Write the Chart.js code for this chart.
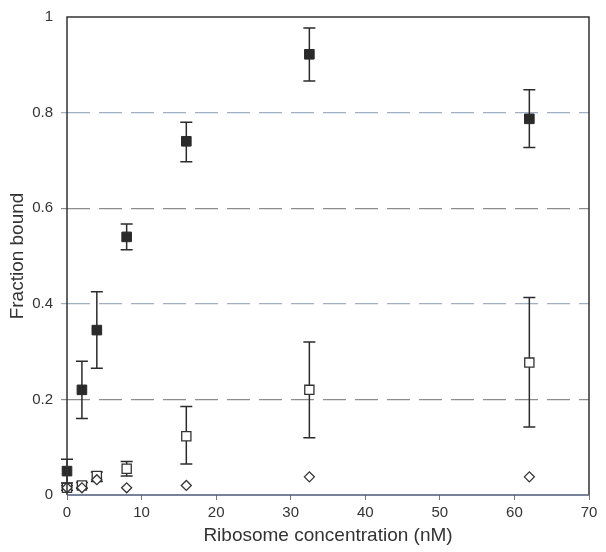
<!DOCTYPE html>
<html>
<head>
<meta charset="utf-8">
<script src="https://cdn.jsdelivr.net/npm/chart.js@4/dist/chart.umd.min.js"></script>
<style>
  html, body { margin: 0; padding: 0; background: #fff; }
  #wrap { width: 606px; height: 552px; }
</style>
</head>
<body>
<div id="wrap"><canvas id="myChart" width="606" height="552"></canvas></div>
<script>
// ribosome concentration (nM)
var conc = [0, 2, 4, 8, 16, 32.5, 62];

// filled squares
var filled = [0.05, 0.22, 0.345, 0.54, 0.74, 0.922, 0.787];
var filledHi = [0.075, 0.28, 0.425, 0.567, 0.78, 0.977, 0.848];
var filledLo = [0.025, 0.16, 0.265, 0.513, 0.697, 0.866, 0.727];

// open squares
var open = [0.015, 0.02, 0.04, 0.055, 0.123, 0.22, 0.277];
var openHi = [0.02, 0.026, 0.048, 0.07, 0.185, 0.32, 0.413];
var openLo = [0.01, 0.014, 0.028, 0.04, 0.065, 0.12, 0.142];

// diamonds
var diamond = [0.015, 0.015, 0.032, 0.015, 0.02, 0.038, 0.038];

var xTicks = [0, 10, 20, 30, 40, 50, 60, 70];
var yTicks = [0, 0.2, 0.4, 0.6, 0.8, 1];

function pts(ys) {
  return conc.map(function(x, i) { return { x: x, y: ys[i] }; });
}

var errorBars = {
  id: 'errorBars',
  beforeDatasetsDraw: function(chart) {
    var ctx = chart.ctx;
    var xs = chart.scales.x, ys = chart.scales.y;
    var sets = [[filledHi, filledLo], [openHi, openLo]];
    ctx.save();
    ctx.strokeStyle = '#2b2b2b';
    ctx.lineWidth = 1.5;
    sets.forEach(function(s) {
      conc.forEach(function(c, i) {
        var px = xs.getPixelForValue(c);
        var top = ys.getPixelForValue(s[0][i]);
        var bot = ys.getPixelForValue(s[1][i]);
        ctx.beginPath();
        ctx.moveTo(px, top); ctx.lineTo(px, bot);
        ctx.moveTo(px - 6, top); ctx.lineTo(px + 6, top);
        ctx.moveTo(px - 6, bot); ctx.lineTo(px + 6, bot);
        ctx.stroke();
      });
    });
    ctx.restore();
  },
  afterDraw: function(chart) {
    var ctx = chart.ctx, a = chart.chartArea;
    ctx.save();
    ctx.lineWidth = 1.5;
    ctx.strokeStyle = '#333';
    ctx.beginPath();
    ctx.moveTo(a.left, a.bottom);
    ctx.lineTo(a.left, a.top);
    ctx.lineTo(a.right, a.top);
    ctx.lineTo(a.right, a.bottom);
    ctx.stroke();
    ctx.strokeStyle = '#4a5a78';
    ctx.beginPath();
    ctx.moveTo(a.left, a.bottom);
    ctx.lineTo(a.right, a.bottom);
    ctx.stroke();
    ctx.restore();
  }
};

var myChart = new Chart(document.getElementById('myChart').getContext('2d'), {
  type: 'scatter',
  data: {
    datasets: [{
      label: 'filled',
      data: pts(filled),
      pointStyle: 'rect',
      pointRadius: 6.8,
      backgroundColor: '#2a2a2a',
      borderColor: '#2a2a2a',
      borderWidth: 1,
      clip: false,
      order: 1
    }, {
      label: 'open',
      data: pts(open),
      pointStyle: 'rect',
      pointRadius: 6.5,
      backgroundColor: '#fff',
      borderColor: '#333',
      borderWidth: 1.3,
      clip: false,
      order: 2
    }, {
      label: 'diamond',
      data: pts(diamond),
      pointStyle: 'rectRot',
      pointRadius: 5,
      backgroundColor: '#fff',
      borderColor: '#333',
      borderWidth: 1.3,
      clip: false,
      order: 0
    }]
  },
  options: {
    responsive: false,
    animation: false,
    events: [],
    layout: { padding: { top: 16, right: 17, left: 0, bottom: 0 } },
    plugins: { legend: { display: false }, tooltip: { enabled: false } },
    scales: {
      x: {
        type: 'linear',
        min: 0, max: 70,
        afterBuildTicks: function(s) { s.ticks = xTicks.map(function(v) { return { value: v }; }); },
        afterFit: function(s) { s.height = 57; },
        grid: { display: true, drawOnChartArea: false, drawTicks: true, tickLength: 5, color: '#777' },
        border: { display: false },
        ticks: { color: '#333', font: { family: 'Liberation Sans', size: 15 }, padding: 4 },
        title: { display: true, text: 'Ribosome concentration (nM)', color: '#333', font: { family: 'Liberation Sans', size: 19 }, padding: { top: 0, bottom: 5 } }
      },
      y: {
        min: 0, max: 1,
        afterBuildTicks: function(s) { s.ticks = yTicks.map(function(v) { return { value: v }; }); },
        afterFit: function(s) { s.width = 67; },
        grid: {
          tickLength: 6,
          lineWidth: 1.2,
          color: function(c) {
            var v = c.tick ? c.tick.value : 0;
            if (v === 0 || v === 1) return 'rgba(0,0,0,0)';
            return (Math.round(v * 10) % 4 === 0) ? '#9fb0c4' : '#8c8c8c';
          }
        },
        border: { display: false, dash: [23, 9] },
        ticks: {
          color: '#333',
          font: { family: 'Liberation Sans', size: 15 },
          padding: 8,
          callback: function(v) { return String(v); }
        },
        title: { display: true, text: 'Fraction bound', color: '#333', font: { family: 'Liberation Sans', size: 19 }, padding: { top: 6, bottom: 2 } }
      }
    }
  },
  plugins: [errorBars]
});
</script>
</body>
</html>
